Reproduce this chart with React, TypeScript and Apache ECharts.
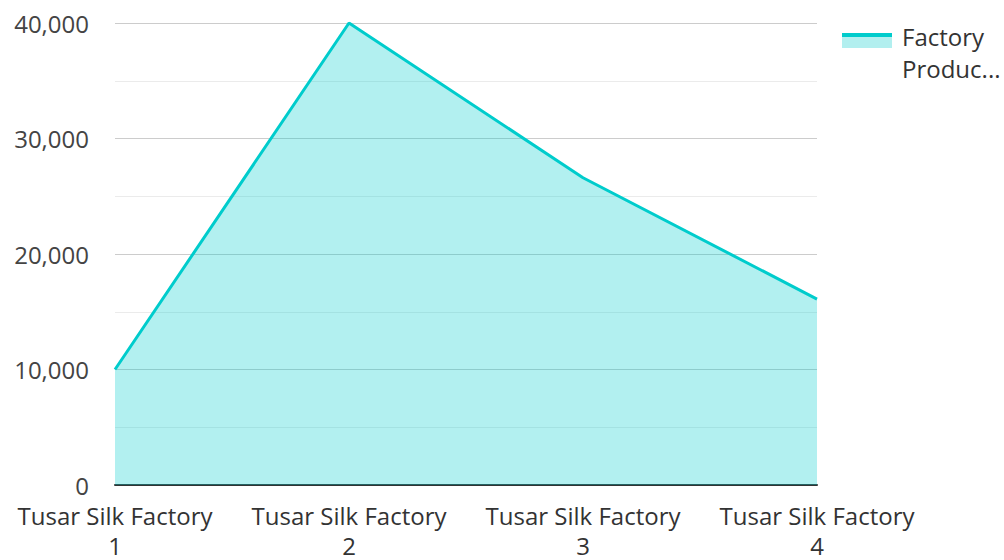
import React, { useEffect, useRef } from "react";
import * as echarts from "echarts";

const categories = ["Tusar Silk Factory\n1", "Tusar Silk Factory\n2", "Tusar Silk Factory\n3", "Tusar Silk Factory\n4"];
const seriesName = "Factory Production";
const legendLabel = "Factory\nProduc...";
const values = [10000, 40000, 26600, 16100];

export default function App() {
  const ref = useRef<HTMLDivElement>(null);
  useEffect(() => {
    const chart = echarts.init(ref.current!, undefined, { renderer: "svg" });
    const font = "'Open Sans', 'Noto Sans', sans-serif";
    chart.setOption({
      animation: false,
      grid: { left: 115, right: 187, top: 23, bottom: 70, containLabel: false },
      legend: { show: false },
      graphic: [
        {
          type: "rect",
          shape: { x: 842, y: 33, width: 50, height: 15 },
          style: { fill: "#b2efef" },
        },
        {
          type: "rect",
          shape: { x: 842, y: 33, width: 50, height: 4 },
          style: { fill: "#00cccc" },
        },
        {
          type: "text",
          x: 902,
          y: 20,
          style: {
            text: legendLabel,
            fontFamily: font,
            fontSize: 24,
            lineHeight: 32,
            fill: "#333",
            verticalAlign: "top",
          },
        },
      ],
      xAxis: {
        type: "category",
        data: categories,
        boundaryGap: false,
        axisLine: { show: true, lineStyle: { color: "#333", width: 2 } },
        axisTick: { show: false },
        axisLabel: { fontFamily: font, fontSize: 24, color: "#333", lineHeight: 30, margin: 15, interval: 0 },
        splitLine: { show: false },
      },
      yAxis: {
        type: "value",
        min: 0,
        max: 40000,
        interval: 10000,
        axisLine: { show: false },
        axisTick: { show: false },
        axisLabel: {
          fontFamily: font,
          fontSize: 24,
          lineHeight: 18,
          color: "#444",
          margin: 26,
          formatter: (v: number) => v.toLocaleString("en-US"),
        },
        splitLine: { show: true, lineStyle: { color: "#cccccc", width: 1 } },
        minorTick: { show: false, splitNumber: 2 },
        minorSplitLine: { show: true, lineStyle: { color: "#ebebeb", width: 1 } },
      },
      series: [
        {
          name: seriesName,
          type: "line",
          data: values,
          symbol: "none",
          lineStyle: { color: "#00cccc", width: 3 },
          itemStyle: { color: "#00cccc" },
          areaStyle: { color: "#00cccc", opacity: 0.3 },
        },
      ],
    });
    return () => chart.dispose();
  }, []);
  return <div ref={ref} style={{ position: "absolute", left: 0, top: 0, width: 1004, height: 560 }} />;
}
